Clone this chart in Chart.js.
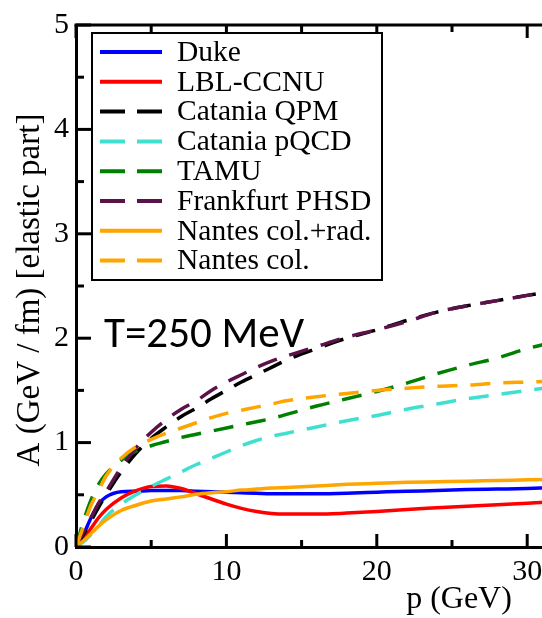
<!DOCTYPE html>
<html>
<head>
<meta charset="utf-8">
<script src="https://cdn.jsdelivr.net/npm/chart.js@4.4.1/dist/chart.umd.min.js"></script>
<style>
  html, body { margin: 0; padding: 0; background: #fff; overflow: hidden; }
  #wrap { width: 542px; height: 618px; overflow: hidden; }
</style>
</head>
<body>
<div id="wrap"><canvas id="chartCanvas" width="850" height="618"></canvas></div>
<script>
// momentum grid (GeV) and A(p) values
const P = [0, 0.5, 1, 1.5, 2, 3, 4, 5, 6, 7, 8, 9, 10, 11, 12, 13, 14, 16, 18, 20, 22, 24, 26, 28, 30, 32];

const duke      = [0, 0.12, 0.28, 0.41, 0.48, 0.53, 0.535, 0.54, 0.54, 0.54, 0.535, 0.53, 0.525, 0.52, 0.515, 0.51, 0.51, 0.51, 0.515, 0.525, 0.535, 0.54, 0.55, 0.555, 0.56, 0.57];
const lblCcnu   = [0, 0.08, 0.18, 0.28, 0.36, 0.47, 0.54, 0.58, 0.585, 0.56, 0.51, 0.46, 0.41, 0.37, 0.34, 0.32, 0.315, 0.315, 0.325, 0.34, 0.36, 0.375, 0.39, 0.405, 0.42, 0.435];
const cataniaQpm = [0, 0.12, 0.25, 0.38, 0.5, 0.72, 0.9, 1.04, 1.15, 1.25, 1.33, 1.42, 1.5, 1.58, 1.65, 1.72, 1.79, 1.9, 2.0, 2.08, 2.17, 2.25, 2.31, 2.36, 2.41, 2.46];
const cataniaPqcd = [0, 0.05, 0.12, 0.2, 0.29, 0.41, 0.5, 0.58, 0.65, 0.72, 0.79, 0.85, 0.91, 0.97, 1.02, 1.06, 1.09, 1.15, 1.21, 1.26, 1.32, 1.37, 1.42, 1.46, 1.5, 1.54];
const tamu      = [0, 0.25, 0.45, 0.6, 0.7, 0.83, 0.92, 0.97, 1.01, 1.05, 1.08, 1.11, 1.14, 1.17, 1.2, 1.23, 1.27, 1.35, 1.42, 1.49, 1.57, 1.66, 1.74, 1.81, 1.9, 1.97];
const frankfurt = [0, 0.14, 0.28, 0.42, 0.53, 0.76, 0.95, 1.1, 1.22, 1.32, 1.4, 1.5, 1.58, 1.65, 1.72, 1.78, 1.83, 1.92, 2.01, 2.08, 2.16, 2.25, 2.31, 2.36, 2.41, 2.46];
const nantesRad = [0, 0.06, 0.13, 0.2, 0.26, 0.35, 0.4, 0.44, 0.46, 0.48, 0.505, 0.52, 0.53, 0.545, 0.555, 0.565, 0.57, 0.585, 0.6, 0.61, 0.62, 0.625, 0.63, 0.637, 0.643, 0.65];
const nantesCol = [0, 0.2, 0.4, 0.54, 0.68, 0.85, 0.96, 1.03, 1.09, 1.14, 1.19, 1.24, 1.28, 1.31, 1.34, 1.37, 1.4, 1.44, 1.47, 1.5, 1.52, 1.54, 1.55, 1.57, 1.58, 1.59];

const X_TICKS = [0, 10, 20, 30, 40, 50];
const Y_TICKS = [0, 1, 2, 3, 4, 5];

const SERIF = "'Liberation Serif', 'Times New Roman', serif";

function pts(vals) {
  return P.map((p, i) => ({ x: p, y: vals[i] }));
}

const SERIES = [
  { label: "Duke", data: duke, color: "#0000ff", dash: [] },
  { label: "LBL-CCNU", data: lblCcnu, color: "#ff0000", dash: [] },
  { label: "Catania QPM", data: cataniaQpm, color: "#000000", dash: [20, 13] },
  { label: "Catania pQCD", data: cataniaPqcd, color: "#40e0d0", dash: [20, 13] },
  { label: "TAMU", data: tamu, color: "#008000", dash: [20, 13] },
  { label: "Frankfurt PHSD", data: frankfurt, color: "#5a1248", dash: [20, 13] },
  { label: "Nantes col.+rad.", data: nantesRad, color: "#ffa500", dash: [] },
  { label: "Nantes col.", data: nantesCol, color: "#ffa500", dash: [20, 13] }
];

// frame, inward ticks, titles, legend box
const decor = {
  id: "decor",
  afterDraw(chart) {
    const c = chart.ctx;
    const a = chart.chartArea;
    const xs = chart.scales.x;
    const ys = chart.scales.y;
    c.save();
    c.strokeStyle = "#000";
    c.lineWidth = 3;
    c.beginPath();
    c.moveTo(a.left - 1.5, a.top);
    c.lineTo(a.right, a.top);
    c.stroke();

    // x ticks (bottom and top)
    for (let v = 0; v <= 50; v += 5) {
      const px = xs.getPixelForValue(v);
      const len = v % 10 === 0 ? 13 : 7;
      c.beginPath();
      c.moveTo(px, a.bottom);
      c.lineTo(px, a.bottom - len);
      c.moveTo(px, a.top);
      c.lineTo(px, a.top + len);
      c.stroke();
    }
    // y ticks
    for (let v = 0; v <= 5; v += 0.5) {
      const py = ys.getPixelForValue(v);
      const len = Number.isInteger(v) ? 15 : 8;
      c.beginPath();
      c.moveTo(a.left, py);
      c.lineTo(a.left + len, py);
      c.stroke();
    }

    // axis titles
    c.fillStyle = "#000";
    c.font = "32px " + SERIF;
    c.textAlign = "center";
    c.textBaseline = "alphabetic";
    c.fillText("p (GeV)", 459, 608);
    c.save();
    c.font = "33px " + SERIF;
    c.translate(39, 290);
    c.rotate(-Math.PI / 2);
    c.fillText("A (GeV / fm) [elastic part]", 0, 0);
    c.restore();

    // annotation
    c.font = "43px Carlito, Calibri, 'Open Sans', sans-serif";
    c.textAlign = "left";
    c.fillText("T=250 MeV", 104, 347);

    // legend
    const bx = 92, by = 33, bw = 290, bh = 247;
    c.fillStyle = "#fff";
    c.fillRect(bx, by, bw, bh);
    c.lineWidth = 2;
    c.strokeRect(bx, by, bw, bh);
    c.font = "29.5px " + SERIF;
    c.textBaseline = "middle";
    chart.data.datasets.forEach((ds, i) => {
      const y = 52 + i * 29.8;
      c.strokeStyle = ds.borderColor;
      c.lineWidth = 4;
      c.setLineDash(ds.borderDash && ds.borderDash.length ? [25, 12] : []);
      c.beginPath();
      c.moveTo(100, y);
      c.lineTo(162, y);
      c.stroke();
      c.setLineDash([]);
      c.fillStyle = "#000";
      c.fillText(ds.label, 177, y + 1);
    });
    c.restore();
  }
};

const chart = new Chart(document.getElementById("chartCanvas").getContext("2d"), {
  type: "line",
  data: {
    datasets: SERIES.map((s, i) => ({
      label: s.label,
      data: pts(s.data),
      borderColor: s.color,
      backgroundColor: s.color,
      borderDash: s.dash,
      borderWidth: 3.5,
      pointRadius: 0,
      cubicInterpolationMode: "monotone",
      fill: false,
      order: SERIES.length - i
    }))
  },
  options: {
    responsive: false,
    animation: false,
    devicePixelRatio: 1,
    layout: { padding: { top: 15, right: 14, left: 0, bottom: 0 } },
    plugins: { legend: { display: false }, tooltip: { enabled: false } },
    scales: {
      x: {
        type: "linear",
        min: 0,
        max: 50,
        afterFit: s => { s.height = 71; },
        afterBuildTicks: s => { s.ticks = X_TICKS.map(v => ({ value: v })); },
        grid: { display: false, drawTicks: false },
        border: { display: true, color: "#000", width: 3 },
        ticks: { color: "#000", padding: 7, font: { family: SERIF, size: 30 } }
      },
      y: {
        min: 0,
        max: 5,
        afterFit: s => { s.width = 76; },
        afterBuildTicks: s => { s.ticks = Y_TICKS.map(v => ({ value: v })); },
        grid: { display: false, drawTicks: false },
        border: { display: true, color: "#000", width: 3 },
        ticks: { color: "#000", padding: 7, font: { family: SERIF, size: 30 } }
      }
    }
  },
  plugins: [decor]
});
</script>
</body>
</html>
